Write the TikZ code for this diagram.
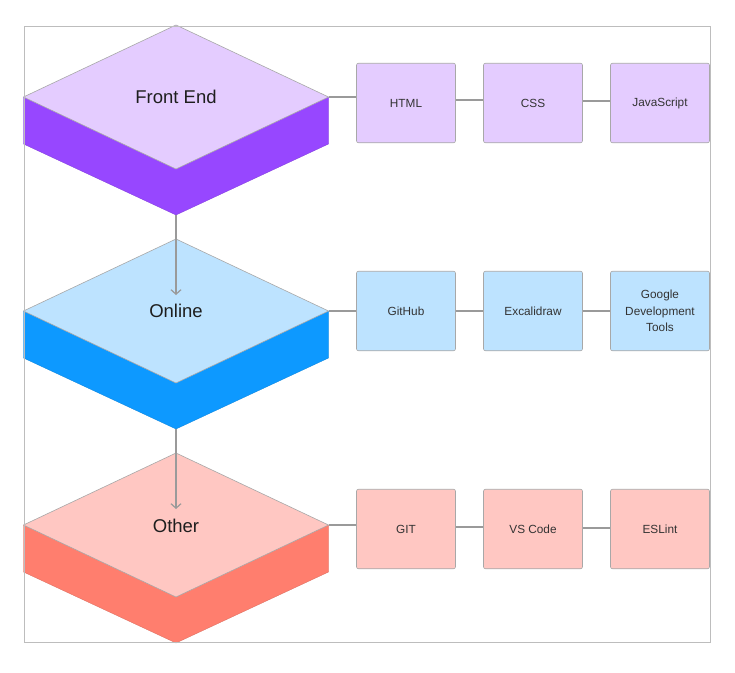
\documentclass[tikz,border=0pt]{standalone}
\usepackage{fontspec}
\setmainfont{Liberation Sans}
\usetikzlibrary{arrows.meta}
\definecolor{frameg}{HTML}{BDBDBD}
\definecolor{edgeg}{HTML}{A8A8A8}
\definecolor{lineg}{HTML}{9A9A9A}
\definecolor{txt}{HTML}{1E1E1E}
\definecolor{boxtxt}{HTML}{333333}
\definecolor{purpleTop}{HTML}{E4CCFF}
\definecolor{purpleSide}{HTML}{9747FF}
\definecolor{blueTop}{HTML}{BDE3FF}
\definecolor{blueSide}{HTML}{0D99FF}
\definecolor{redTop}{HTML}{FFC7C2}
\definecolor{redSide}{HTML}{FF7E6E}
\newcommand{\isoslab}[3]{% #1 cx, #2 cy, #3 colour prefix
  \filldraw[fill=#3Side, draw=#3Side!85!black, line width=0.3pt]
    (#1-152.5,#2) -- (#1-152.5,#2+47) -- (#1,#2+118) -- (#1+152.5,#2+47) -- (#1+152.5,#2) -- cycle;
  \filldraw[fill=#3Top, draw=edgeg, line width=0.6pt, line join=round]
    (#1,#2-72) -- (#1+152.5,#2) -- (#1,#2+72) -- (#1-152.5,#2) -- cycle;
}
\tikzset{
  slablabel/.style={text=txt, font=\fontsize{18.5}{20}\selectfont, inner sep=0pt},
  itembox/.style={draw=edgeg, line width=0.6pt, rounded corners=2pt, minimum width=99pt, minimum height=79.5pt,
    inner sep=0pt, text=boxtxt, font=\fontsize{11.8}{16.5}\selectfont, align=center},
  link/.style={draw=lineg, line width=1.4pt},
  flow/.style={draw=lineg, line width=1.2pt, -{Straight Barb[length=4.5pt,width=10pt,line width=1.2pt]}},
}
\begin{document}
\begin{tikzpicture}[x=1pt, y=-1pt]
\useasboundingbox (0,0) rectangle (735,672);
\fill[white] (0,0) rectangle (735,672);

% slabs
\isoslab{176}{97}{purple}
\isoslab{176}{311}{blue}
\isoslab{176}{525}{red}

% labels and anchor points
\node[slablabel] (fe) at (176,97) {Front End};
\node[slablabel] (on) at (176,311) {Online};
\node[slablabel] (ot) at (176,526) {Other};
\coordinate (fe-r) at (329,97);
\coordinate (fe-b) at (176,215);
\coordinate (on-r) at (329,311);
\coordinate (on-b) at (176,429);
\coordinate (ot-r) at (329,525);
\coordinate (on-tip) at (176,295);
\coordinate (ot-tip) at (176,509);

% row 1
\node[itembox, fill=purpleTop] (html) at (406,103) {HTML};
\node[itembox, fill=purpleTop] (css) at (533,103) {CSS};
\node[itembox, fill=purpleTop] (js) at (660,103) {JavaScript};
% row 2
\node[itembox, fill=blueTop] (gh) at (406,311) {GitHub};
\node[itembox, fill=blueTop] (ex) at (533,311) {Excalidraw};
\node[itembox, fill=blueTop] (gdt) at (660,311) {Google\\Development\\Tools};
% row 3
\node[itembox, fill=redTop] (git) at (406,529) {GIT};
\node[itembox, fill=redTop] (vs) at (533,529) {VS Code};
\node[itembox, fill=redTop] (es) at (660,529) {ESLint};

% connectors
\draw[link] (fe-r) -- (html.west |- fe-r);
\draw[link] (html.east |- 0,100) -- (css.west |- 0,100);
\draw[link] (css.east |- 0,101) -- (js.west |- 0,101);
\draw[link] (on-r) -- (gh.west |- on-r);
\draw[link] (gh.east) -- (ex.west);
\draw[link] (ex.east) -- (gdt.west);
\draw[link] (ot-r) -- (git.west |- ot-r);
\draw[link] (git.east |- 0,527) -- (vs.west |- 0,527);
\draw[link] (vs.east |- 0,528) -- (es.west |- 0,528);

\draw[flow] (fe-b) -- (on-tip);
\draw[flow] (on-b) -- (ot-tip);

% frame (clips right of last column)
\fill[white] (710.5,20) rectangle (735,672);
\draw[frameg, line width=1pt] (24,26) rectangle (710,642);
\end{tikzpicture}
\end{document}
